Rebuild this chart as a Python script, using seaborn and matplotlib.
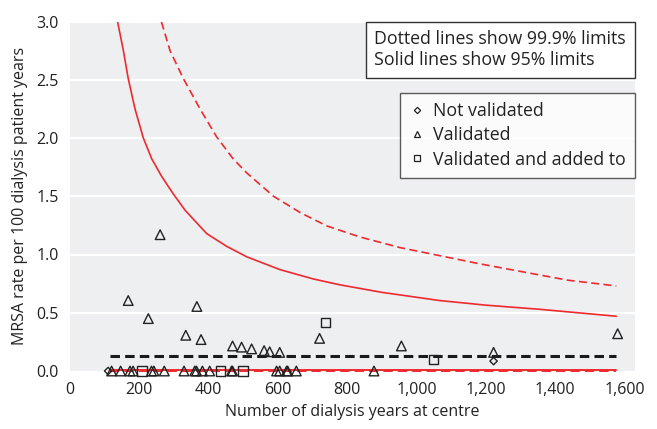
import numpy as np
import pandas as pd
import matplotlib
matplotlib.use("Agg")
import matplotlib.pyplot as plt
import seaborn as sns
from matplotlib.offsetbox import AnchoredText
from matplotlib.lines import Line2D

# ---------------- data ----------------
nv_x = [110, 1222]
nv_y = [0.0, 0.085]

v_x = [260, 168, 366, 226, 334, 378, 469, 495, 524, 560, 576, 605, 720, 956, 1222, 1580,
       120, 146, 173, 182, 235, 242, 272, 329, 360, 365, 382, 403, 466, 469, 596, 605,
       625, 628, 653, 877]
v_y = [1.17, 0.605, 0.554, 0.45, 0.307, 0.27, 0.215, 0.205, 0.19, 0.175, 0.165, 0.16,
       0.28, 0.215, 0.16, 0.32,
       0, 0, 0, 0, 0, 0, 0, 0, 0, 0, 0, 0, 0, 0, 0, 0, 0, 0, 0, 0]

va_x = [207, 434, 499, 737, 1049]
va_y = [0.0, 0.0, 0.0, 0.415, 0.10]

# upper control limits
u95_x = [130, 136.5, 154, 168, 187.5, 211.5, 236, 264.5, 298, 332, 394, 452, 510, 606,
         702, 778, 900, 1066, 1200, 1354, 1576]
u95_y = [3.3, 3.01, 2.75, 2.51, 2.25, 2.0, 1.82, 1.67, 1.52, 1.38, 1.18, 1.07, 0.98,
         0.87, 0.79, 0.74, 0.675, 0.605, 0.565, 0.53, 0.47]
u999_x = [255, 262.5, 288.5, 327, 375, 423, 471, 510, 587, 664, 741, 837, 951, 1182,
          1435, 1576]
u999_y = [3.1, 3.01, 2.75, 2.51, 2.25, 2.01, 1.82, 1.70, 1.50, 1.36, 1.245, 1.15,
          1.06, 0.92, 0.78, 0.73]
low_x = [115, 1576]
low95_y = [0.012, 0.012]
low999_y = [0.0, 0.0]

mean_x = [115, 1576]
mean_y = [0.13, 0.13]

xticks = [0, 200, 400, 600, 800, 1000, 1200, 1400, 1600]
xtick_labels = ["0", "200", "400", "600", "800", "1,000", "1,200", "1,400", "1,600"]
yticks = [0.0, 0.5, 1.0, 1.5, 2.0, 2.5, 3.0]

# ---------------- figure ----------------
sns.set_theme(style="white")
plt.rcParams["font.family"] = ["Open Sans", "DejaVu Sans"]

fig = plt.figure(figsize=(6.57, 4.29), dpi=100)
ax = fig.add_axes([70 / 657, 58 / 429, 565 / 657, 349.5 / 429])
ax.set_facecolor("#eeeff1")
for s in ax.spines.values():
    s.set_visible(False)

ax.set_xlim(0, 1630)
ax.set_ylim(0, 3.0)
for yv in yticks[1:]:
    ax.axhline(yv, color="white", lw=1.6, zorder=0.5)

red = "#ee2a2f"
sns.lineplot(x=u95_x, y=u95_y, ax=ax, color=red, lw=1.2, sort=False, zorder=2)
sns.lineplot(x=u999_x, y=u999_y, ax=ax, color=red, lw=1.2, sort=False, zorder=2,
             linestyle=(0, (4.8, 2.6)))
ax.plot(low_x, low95_y, color=red, lw=1.4, zorder=2, clip_on=False)
ax.plot(low_x, low999_y, color=red, lw=1.4, zorder=2, clip_on=False,
        linestyle=(0, (4.8, 2.6)))
ax.plot(mean_x, mean_y, color="#1a1a1a", lw=2.2, linestyle=(0, (3.1, 1.7)), zorder=2)

mk = dict(facecolor="none", edgecolor="#222222", linewidth=1.0, zorder=3, clip_on=False)
ax.scatter(nv_x, nv_y, marker="D", s=14, **mk)
ax.scatter(v_x, v_y, marker="^", s=48, **mk)
ax.scatter(va_x, va_y, marker="s", s=48, **mk)

ax.set_xticks(xticks)
ax.set_xticklabels(xtick_labels)
ax.set_yticks(yticks)
ax.set_yticklabels([f"{v:.1f}" for v in yticks])
ax.tick_params(axis="x", direction="in", length=5, width=1.2, color="white",
               labelsize=11.5, pad=8, labelcolor="#222222")
ax.tick_params(axis="y", length=0, labelsize=11.5, pad=8, labelcolor="#222222")
ax.set_xlabel("Number of dialysis years at centre", fontsize=11.5, color="#222222", labelpad=4)
ax.set_ylabel("MRSA rate per 100 dialysis patient years", fontsize=11.5, color="#222222",
              labelpad=6)

handles = [
    Line2D([], [], ls="none", marker="D", ms=3.2, mfc="none", mec="#222222", mew=0.9),
    Line2D([], [], ls="none", marker="^", ms=4.5, mfc="none", mec="#222222", mew=0.9),
    Line2D([], [], ls="none", marker="s", ms=4.5, mfc="none", mec="#222222", mew=0.9),
]
leg = ax.legend(handles, ["Not validated", "Validated", "Validated and added to"],
                loc="upper right", bbox_to_anchor=(1.0, (371 - 93) / 349.5),
                borderaxespad=0, fancybox=False, frameon=True, fontsize=12.8,
                handlelength=0.9, handletextpad=0.45, labelspacing=0.36,
                borderpad=0.5)
leg.get_frame().set_edgecolor("#333333")
leg.get_frame().set_linewidth(1.0)
leg.get_frame().set_facecolor("white")
for t in leg.get_texts():
    t.set_color("#222222")

at = AnchoredText("Dotted lines show 99.9% limits\nSolid lines show 95% limits",
                  loc="upper right", frameon=True, borderpad=0, pad=0.5,
                  prop=dict(fontsize=12.8, color="#222222", linespacing=1.2))
at.patch.set_boxstyle("square,pad=0")
at.patch.set_edgecolor("#333333")
at.patch.set_linewidth(1.0)
ax.add_artist(at)

fig.savefig("out.png", dpi=100)
